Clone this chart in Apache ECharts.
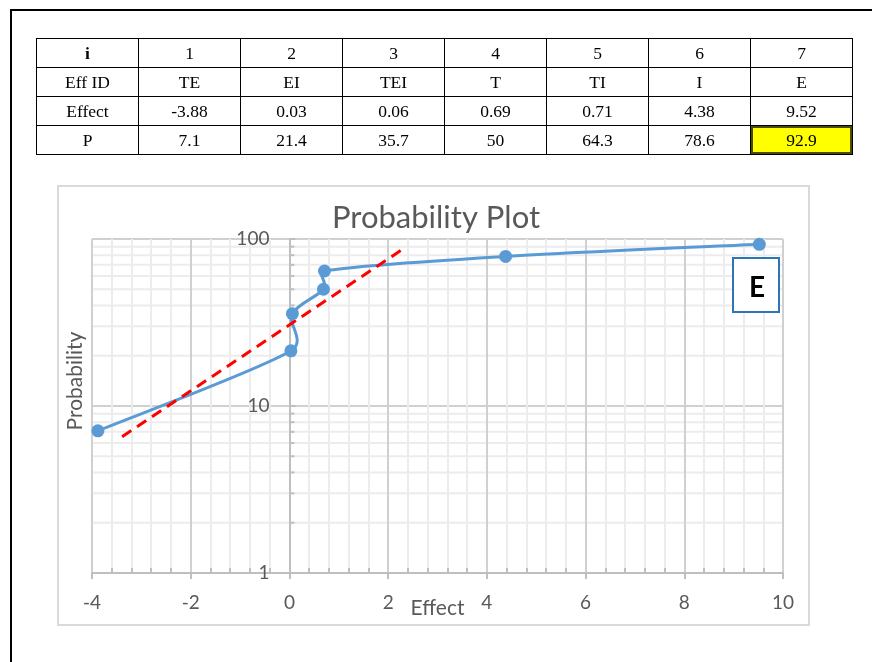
<!DOCTYPE html>
<html>
<head>
<meta charset="utf-8">
<script src="https://cdn.jsdelivr.net/npm/echarts@6/dist/echarts.min.js"></script>
<style>
html,body{margin:0;padding:0;background:#fff;width:872px;height:662px;overflow:hidden;position:relative;}
#frameTop{position:absolute;left:10px;top:9px;width:862px;height:2px;background:#000;}
#frameLeft{position:absolute;left:10px;top:9px;width:2px;height:653px;background:#000;}
#chart{position:absolute;left:0;top:0;width:872px;height:662px;}
#tbl{position:absolute;left:36px;top:38px;border-collapse:collapse;table-layout:fixed;width:817px;
  font-family:'Liberation Serif','Times New Roman',serif;font-size:17.5px;color:#000;z-index:2;}
#tbl td{border:1px solid #000;height:28px;text-align:center;padding:0;line-height:28px;}
#tbl td.hl{background:#ffff00;box-shadow:inset 0 0 0 2px #4a4a00;}
</style>
</head>
<body>
<div id="frameTop"></div>
<div id="frameLeft"></div>
<div id="chart"></div>
<table id="tbl"></table>
<script>
// ---- data ----
const indexRow = [1, 2, 3, 4, 5, 6, 7];
const effIds = ['TE', 'EI', 'TEI', 'T', 'TI', 'I', 'E'];
const effects = [-3.88, 0.03, 0.06, 0.69, 0.71, 4.38, 9.52];
const probs = [7.1, 21.4, 35.7, 50, 64.3, 78.6, 92.9];
const fitLineX = [-3.39, 2.34];
const fitLineP = [6.55, 88.7];
const yMinorTicks = [2, 3, 4, 5, 6, 7, 8, 9, 20, 30, 40, 50, 60, 70, 80, 90];
const highlightId = 'E';

// ---- table ----
const tbl = document.getElementById('tbl');
function addRow(label, vals, boldLabel) {
  const tr = document.createElement('tr');
  const th = document.createElement('td');
  th.textContent = label;
  if (boldLabel) th.style.fontWeight = 'bold';
  tr.appendChild(th);
  vals.forEach((v, i) => {
    const td = document.createElement('td');
    td.textContent = String(v);
    if (label === 'P' && effIds[i] === highlightId) td.className = 'hl';
    tr.appendChild(td);
  });
  tbl.appendChild(tr);
}
addRow('i', indexRow, true);
addRow('Eff ID', effIds);
addRow('Effect', effects);
addRow('P', probs);

// ---- Excel-like smoothing (Catmull-Rom 1/6 with arm limited to half segment) ----
function segmentBezier(pts, i) {
  const n = pts.length;
  const p0 = pts[Math.max(i - 1, 0)], p1 = pts[i], p2 = pts[i + 1], p3 = pts[Math.min(i + 2, n - 1)];
  const d12 = Math.hypot(p2[0] - p1[0], p2[1] - p1[1]);
  function arm(a, b) {
    let vx = (b[0] - a[0]) / 6, vy = (b[1] - a[1]) / 6;
    const len = Math.hypot(vx, vy), lim = d12 / 2;
    if (len > lim && len > 0) { vx *= lim / len; vy *= lim / len; }
    return [vx, vy];
  }
  const a1 = arm(p0, p2), a2 = arm(p1, p3);
  return {x1: p1[0], y1: p1[1], cpx1: p1[0] + a1[0], cpy1: p1[1] + a1[1],
          cpx2: p2[0] - a2[0], cpy2: p2[1] - a2[1], x2: p2[0], y2: p2[1]};
}

// ---- chart ----
const FONT = 'Lato, "Open Sans", sans-serif';
const chart = echarts.init(document.getElementById('chart'), null, {renderer: 'canvas'});
const points = effects.map((x, i) => [x, probs[i]]);
chart.setOption({
  animation: false,
  title: {
    text: 'Probability Plot', left: 'center', top: 197,
    textStyle: {color: '#595959', fontSize: 31, fontWeight: 'normal', fontFamily: FONT}
  },
  grid: {left: 92, top: 239, width: 691, height: 334, containLabel: false},
  xAxis: {
    type: 'value', min: -4, max: 10, interval: 2,
    name: 'Effect', nameLocation: 'middle', nameGap: 25, nameMoveOverlap: false,
    nameTextStyle: {color: '#595959', fontSize: 21, fontFamily: FONT},
    axisLine: {onZero: false, lineStyle: {color: '#bfbfbf', width: 2}},
    axisTick: {show: true, length: 6, lineStyle: {color: '#bfbfbf', width: 2}},
    minorTick: {show: true, splitNumber: 5, length: -5, lineStyle: {color: '#bfbfbf', width: 2}},
    splitLine: {show: true, lineStyle: {color: '#d0d0d0', width: 2}},
    minorSplitLine: {show: true, lineStyle: {color: '#ececec', width: 2}},
    axisLabel: {color: '#595959', fontSize: 19, fontFamily: FONT, margin: 20}
  },
  yAxis: {
    type: 'log', logBase: 10, min: 1, max: 100,
    axisLine: {show: true, onZero: false, lineStyle: {color: '#bfbfbf', width: 2}},
    axisTick: {show: true, inside: true, length: 6, lineStyle: {color: '#bfbfbf', width: 2}},
    splitLine: {show: true, lineStyle: {color: '#d0d0d0', width: 2}},
    axisLabel: {color: '#595959', fontSize: 19, fontFamily: FONT, margin: 20}
  },
  graphic: [
    {type: 'rect', shape: {x: 58, y: 186, width: 751, height: 439},
     style: {fill: null, stroke: '#d9d9d9', lineWidth: 2}, z: -10, silent: true},
    {type: 'text', x: 75, y: 381, rotation: Math.PI / 2,
     style: {text: 'Probability', align: 'center', verticalAlign: 'middle',
             fill: '#595959', font: '21px ' + FONT}},
    {type: 'rect', shape: {x: 733, y: 258, width: 46, height: 54},
     style: {fill: '#ffffff', stroke: '#2e75b6', lineWidth: 2}, z: 100},
    {type: 'text', x: 757, y: 288, z: 101,
     style: {text: 'E', align: 'center', verticalAlign: 'middle',
             fill: '#000000', font: 'bold 28px ' + FONT}}
  ],
  series: [
    {
      type: 'custom', silent: true, z: -1, clip: false,
      data: yMinorTicks.map(v => [0, v]),
      renderItem: function (params, api) {
        const v = api.value(1);
        const a = api.coord([-4, v]);
        const b = api.coord([10, v]);
        const t = api.coord([0, v]);
        return {type: 'group', children: [
          {type: 'line', shape: {x1: a[0], y1: a[1], x2: b[0], y2: b[1]},
           style: {stroke: '#ececec', lineWidth: 2}},
          {type: 'line', shape: {x1: t[0], y1: t[1], x2: t[0] + 5, y2: t[1]},
           style: {stroke: '#bfbfbf', lineWidth: 2}}
        ]};
      }
    },
    {
      type: 'custom', name: 'Probability curve', silent: true, z: 4, clip: false,
      data: points,
      renderItem: function (params, api) {
        const i = params.dataIndex;
        if (i >= points.length - 1) return null;
        const px = points.map(p => api.coord(p));
        return {type: 'bezierCurve', shape: segmentBezier(px, i),
                style: {stroke: '#5b9bd5', lineWidth: 3, fill: null, lineCap: 'round'}};
      }
    },
    {
      type: 'scatter', name: 'Probability',
      data: points, symbol: 'circle', symbolSize: 13,
      itemStyle: {color: '#5b9bd5', opacity: 1}, z: 6
    },
    {
      type: 'line', name: 'Fit',
      data: fitLineX.map((x, i) => [x, fitLineP[i]]),
      symbol: 'none',
      lineStyle: {color: '#ff0000', width: 3, type: [11, 7]}, z: 5
    }
  ]
});
// place the vertical axis at Effect = 0, using the x scale
const zeroPx = chart.convertToPixel({xAxisIndex: 0}, 0);
const minPx = chart.convertToPixel({xAxisIndex: 0}, -4);
chart.setOption({yAxis: {offset: -(zeroPx - minPx)}});
</script>
</body>
</html>
